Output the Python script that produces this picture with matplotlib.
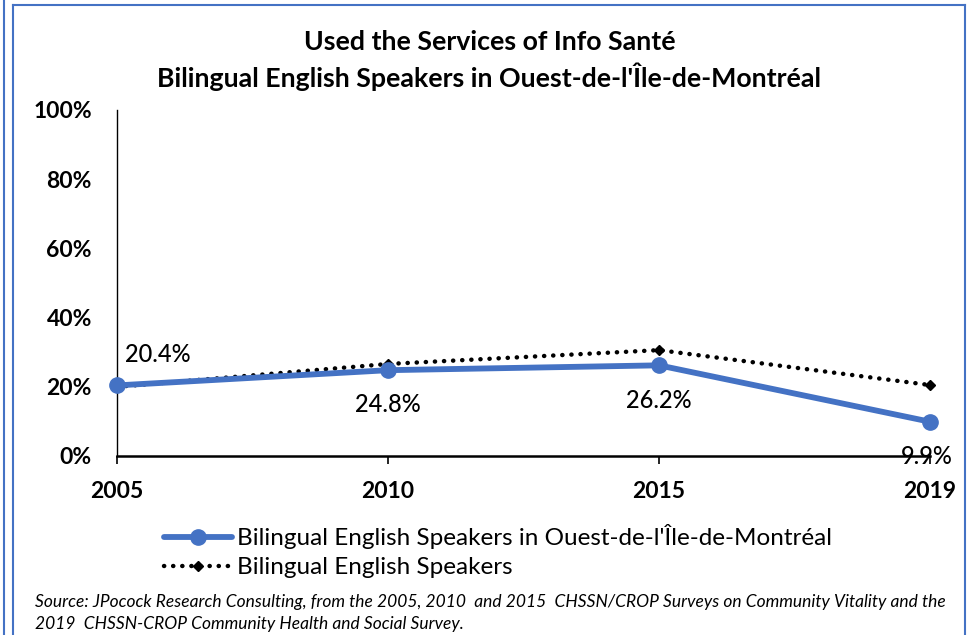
import matplotlib.pyplot as plt
from matplotlib.lines import Line2D

# Chart data
years = ["2005", "2010", "2015", "2019"]
ouest_values = [20.4, 24.8, 26.2, 9.9]
bilingual_values = [20.0, 26.6, 30.6, 20.5]
y_ticks = [0, 20, 40, 60, 80, 100]

label_font = ["Lato", "DejaVu Sans"]

fig = plt.figure(figsize=(9.79, 6.35), dpi=100)
ax = fig.add_axes([0.1195, 0.2819, 0.8305, 0.5449])

x = list(range(len(years)))

# Bilingual English Speakers (dotted black with diamonds)
ax.plot(x, bilingual_values, color="black", linewidth=3.2,
        linestyle=(0, (0.05, 2.0)), dash_capstyle="round",
        marker="D", markersize=5.5, label="Bilingual English Speakers", zorder=3)

# Ouest-de-l'Île-de-Montréal (thick blue with circles)
ax.plot(x, ouest_values, color="#4472C4", linewidth=4.2,
        marker="o", markersize=11, solid_capstyle="round",
        label="Bilingual English Speakers in Ouest-de-l'Île-de-Montréal", zorder=4)

# Data labels
offsets = [(6, 22), (0, -25), (0, -25), (-2, -25)]
for i, v in enumerate(ouest_values):
    dx, dy = offsets[i]
    ha = "left" if i == 0 else "center"
    ax.annotate(f"{v:.1f}%", (x[i], v), textcoords="offset points",
                xytext=(dx, dy), ha=ha, va="center", fontsize=17,
                fontweight="medium", family=label_font, zorder=5)

ax.set_xlim(0, len(years) - 1)
ax.set_ylim(0, 100)
ax.set_xticks(x)
ax.set_xticklabels(years)
ax.set_yticks(y_ticks)
ax.set_yticklabels([f"{t}%" for t in y_ticks])
ax.tick_params(axis="y", length=0, pad=18)
ax.tick_params(axis="x", length=6, width=1.2, direction="out", pad=12)
for lbl in ax.get_xticklabels() + ax.get_yticklabels():
    lbl.set_fontsize(16.5)
    lbl.set_fontweight("bold")
    lbl.set_family(label_font)

for side in ["top", "right"]:
    ax.spines[side].set_visible(False)
ax.spines["bottom"].set_linewidth(1.8)
ax.spines["left"].set_linewidth(1.0)
for line in ax.lines:
    line.set_clip_on(False)

fig.text(0.5, 0.904, "Used the Services of Info Santé\nBilingual English Speakers in Ouest-de-l'Île-de-Montréal",
         ha="center", va="center", fontsize=19.3, fontweight="bold",
         family=label_font, linespacing=1.35)

handles, labels = ax.get_legend_handles_labels()
leg = fig.legend(handles[::-1], labels[::-1], loc="center left",
                 bbox_to_anchor=(0.145, 0.132), frameon=False,
                 prop={"family": label_font, "size": 17.5},
                 handlelength=2.8, handletextpad=0.2, labelspacing=0.32)

fig.text(0.036, 0.034,
         "Source: JPocock Research Consulting, from the 2005, 2010  and 2015  CHSSN/CROP Surveys on Community Vitality and the\n"
         "2019  CHSSN-CROP Community Health and Social Survey.",
         ha="left", va="center", fontsize=12.5, style="italic",
         family=label_font, linespacing=1.45)

# Frame lines around the chart
frame_color = "#4472C4"
fig.add_artist(Line2D([0.004, 0.004], [0, 1], color=frame_color, lw=1.5, transform=fig.transFigure))
fig.add_artist(Line2D([0.013, 0.013], [0, 0.992], color=frame_color, lw=1.5, transform=fig.transFigure))
fig.add_artist(Line2D([0.013, 0.986], [0.992, 0.992], color=frame_color, lw=1.5, transform=fig.transFigure))
fig.add_artist(Line2D([0.986, 0.986], [0, 0.992], color=frame_color, lw=1.5, transform=fig.transFigure))

fig.savefig("out.png", dpi=100)
